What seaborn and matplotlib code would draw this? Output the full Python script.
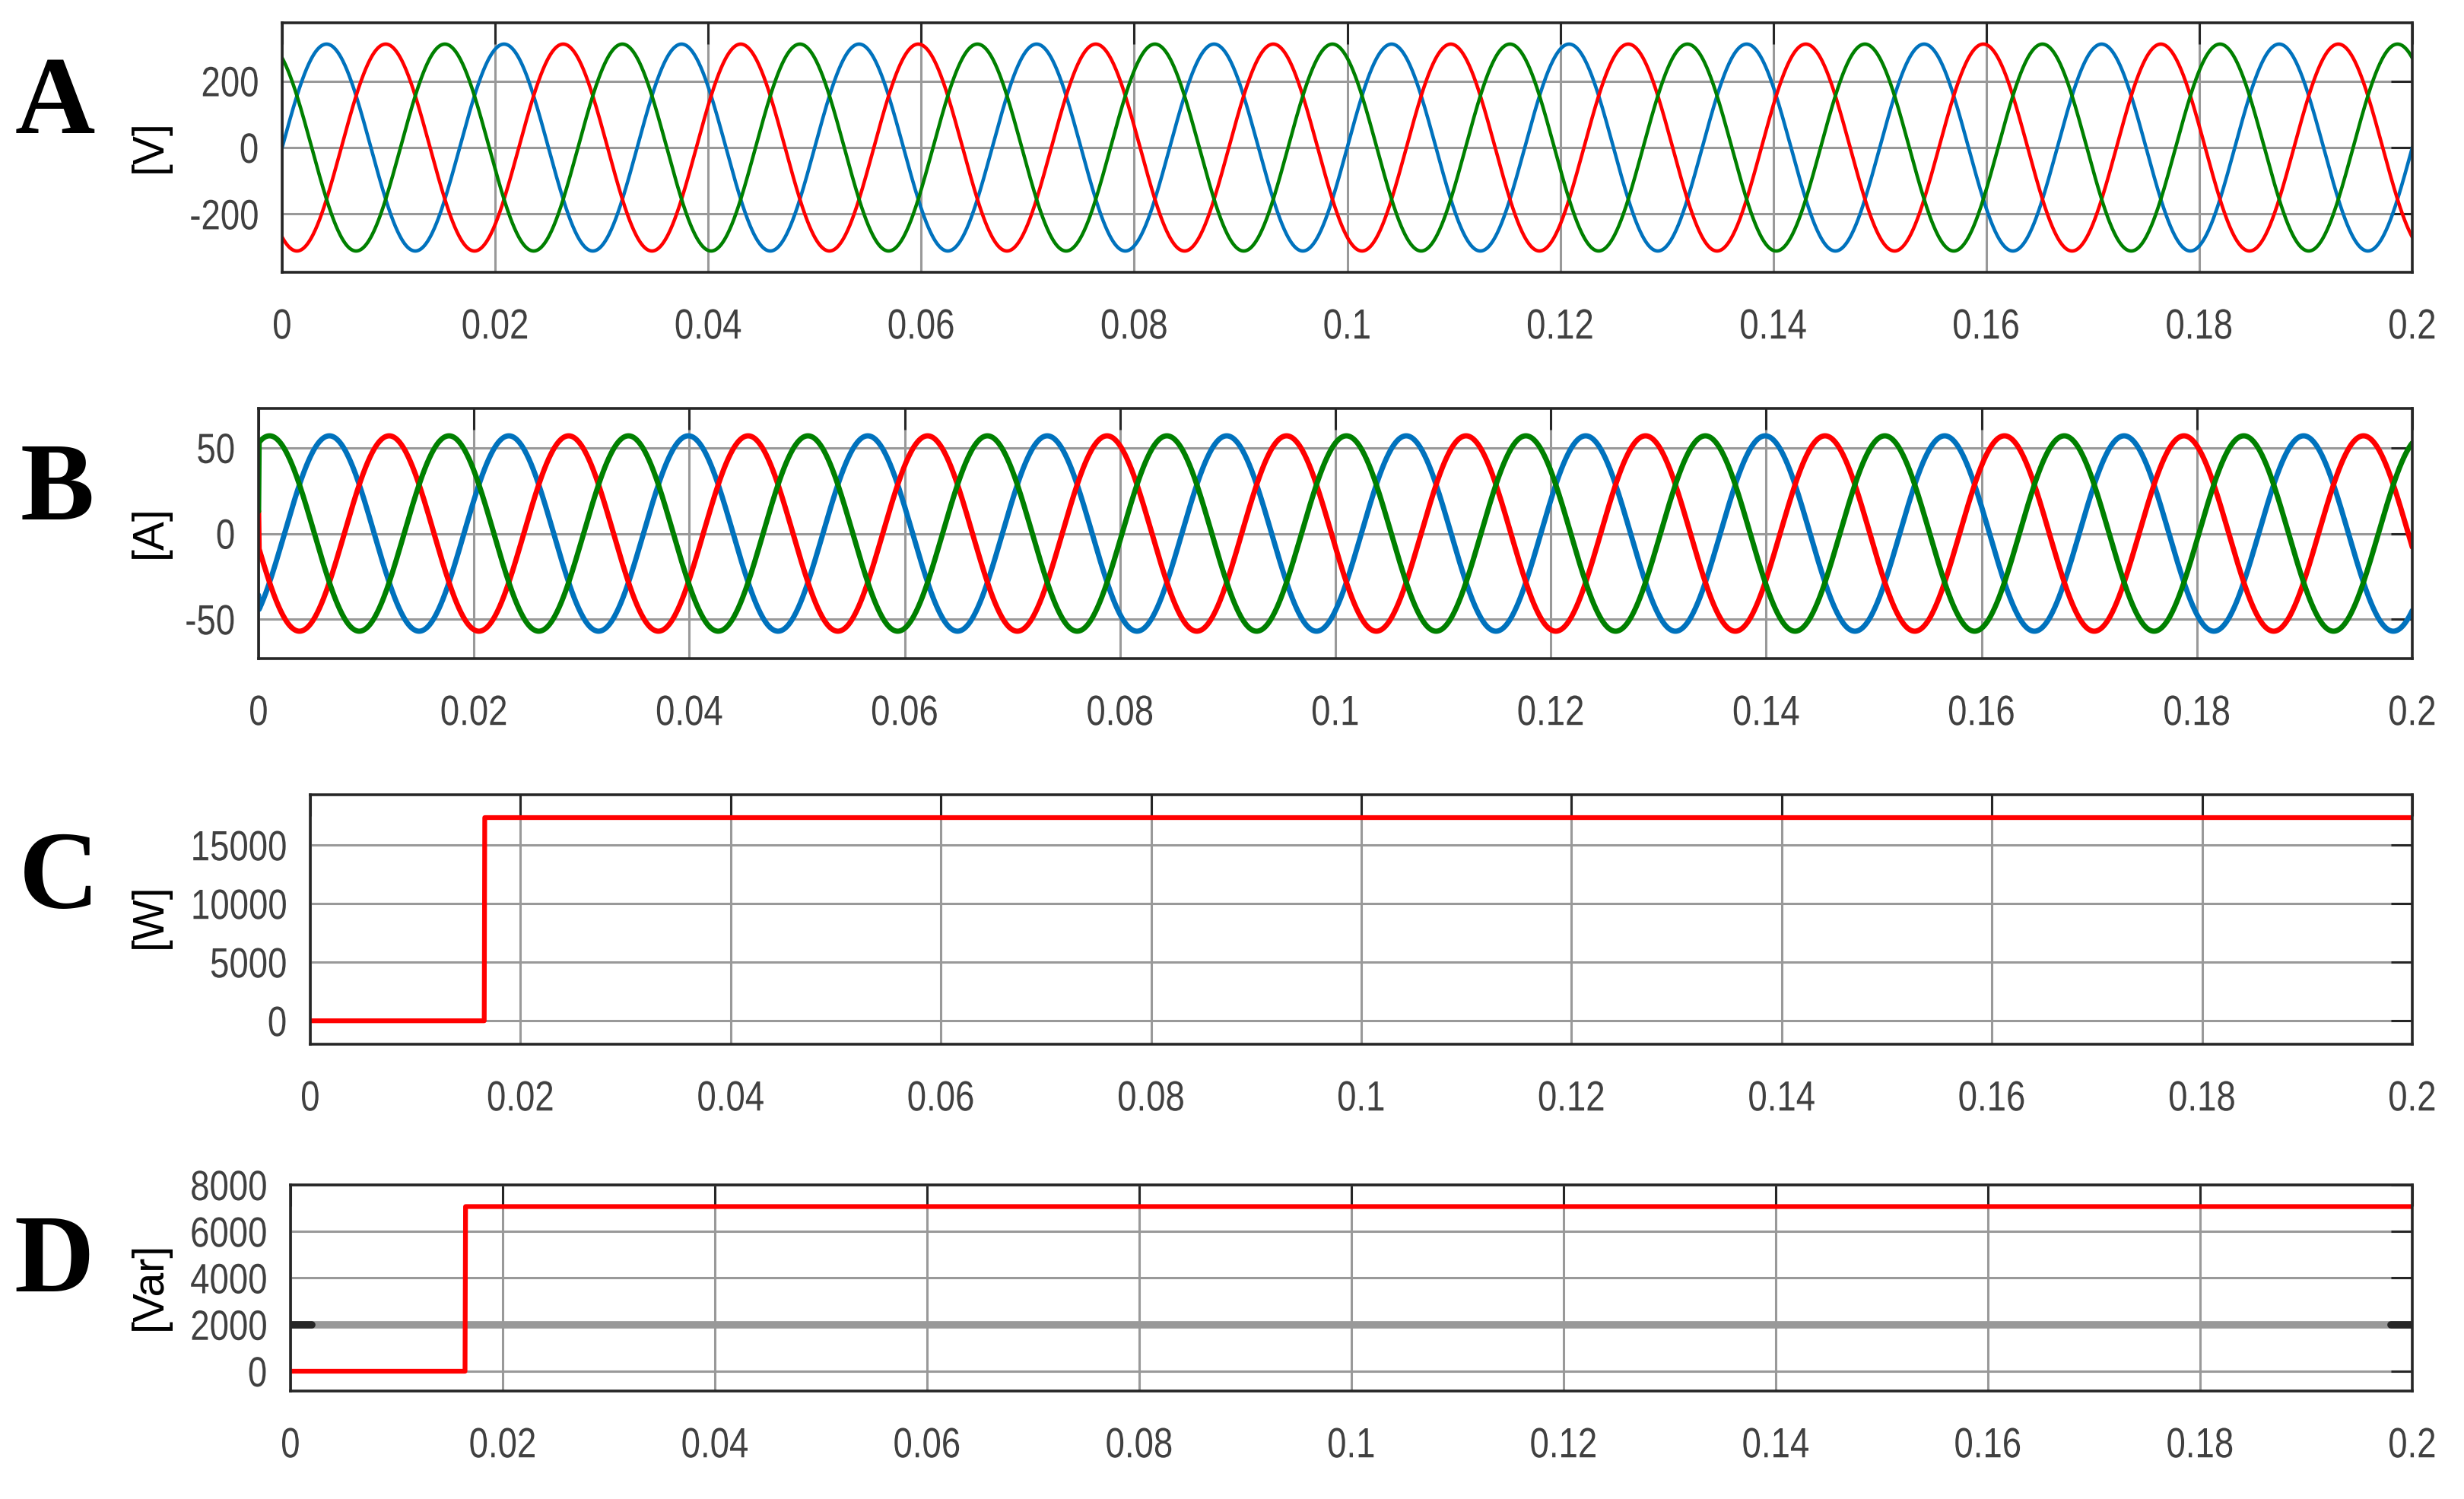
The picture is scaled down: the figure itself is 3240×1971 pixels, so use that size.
import numpy as np
import pandas as pd
import matplotlib
matplotlib.use('Agg')
import matplotlib.pyplot as plt
from matplotlib import font_manager, patheffects
from matplotlib.transforms import Affine2D
import seaborn as sns

# ---- data ----
t_end = 0.2
n_samples = 4001
freq = 60.0                      # Hz
phase_names = ['a', 'b', 'c']
phase_colors = ['#0072BD', '#FF0000', '#008000']
phase_shift_deg = [0, -120, 120]  # blue, red, green

v_amp = 311.0                    # [V]
i_amp = 57.0                     # [A]
i_lag_deg = 52.0                 # current lags voltage
i_start = [-36.0, 13.0, 13.0]    # first sample of the currents

p_step_time = 0.0166
p_step_value = 17350.0           # [W]
q_step_time = 0.0165
q_step_value = 7070.0            # [Var]
q_ref_value = 2000.0             # grey line in panel D

xticks = [0, 0.02, 0.04, 0.06, 0.08, 0.1, 0.12, 0.14, 0.16, 0.18, 0.2]
xtick_labels = ['0', '0.02', '0.04', '0.06', '0.08', '0.1', '0.12', '0.14', '0.16', '0.18', '0.2']
yticks_a = [-200, 0, 200]
yticks_b = [-50, 0, 50]
yticks_c = [0, 5000, 10000, 15000]
yticks_d = [0, 2000, 4000, 6000, 8000]
ylim_a = (-375, 375)
ylim_b = (-73, 73)
ylim_c = (-2000, 19300)
ylim_d = (-850, 8000)
panel_letters = ['A', 'B', 'C', 'D']
units = ['[V]', '[A]', '[W]', '[Var]']


class Squeeze(patheffects.AbstractPathEffect):
    """Draw text narrower (the reference uses a condensed face)."""

    def __init__(self, sx=0.82, anchor='center'):
        super().__init__()
        self.sx = sx
        self.anchor = anchor

    def draw_path(self, renderer, gc, tpath, affine, rgbFace=None):
        xs = tpath.vertices[:, 0]
        if len(xs) == 0:
            return
        x0 = xs.max() if self.anchor == 'right' else 0.5 * (xs.min() + xs.max())
        tr = Affine2D().translate(-x0, 0).scale(self.sx, 1).translate(x0, 0) + affine
        renderer.draw_path(gc, tpath, tr, rgbFace)


# ---- build tables ----
t = np.linspace(0, t_end, n_samples)
rows_v, rows_i = [], []
for name, sh in zip(phase_names, phase_shift_deg):
    v = v_amp * np.sin(2 * np.pi * freq * t + np.deg2rad(sh))
    rows_v.append(pd.DataFrame({'t': t, 'val': v, 'phase': name}))
for name, sh, i0 in zip(phase_names, phase_shift_deg, i_start):
    cur = i_amp * np.sin(2 * np.pi * freq * t + np.deg2rad(sh - i_lag_deg))
    cur[0] = i0
    rows_i.append(pd.DataFrame({'t': t, 'val': cur, 'phase': name}))
df_v = pd.concat(rows_v)
df_i = pd.concat(rows_i)
df_p = pd.DataFrame({'t': t, 'val': np.where(t < p_step_time, 0.0, p_step_value)})
df_q = pd.DataFrame({'t': t, 'val': np.where(t < q_step_time, 0.0, q_step_value)})

# ---- style ----
sns.set_theme(style='white')
fams = {f.name for f in font_manager.fontManager.ttflist}
narrow = 'Liberation Sans Narrow' in fams
tick_font = 'Liberation Sans Narrow' if narrow else 'Liberation Sans'
squeeze = 1.0 if narrow else 0.82
plt.rcParams['font.family'] = [tick_font, 'DejaVu Sans']

W, H = 3241, 1971
fig = plt.figure(figsize=(W / 100, H / 100), dpi=100)

# axes boxes in pixels: left, top, right, bottom
boxes = [(371, 30, 3172, 358), (340, 537, 3172, 866),
         (408, 1045, 3172, 1373), (382, 1558, 3172, 1829)]
axes = []
for l, tp, r, b in boxes:
    axes.append(fig.add_axes([l / W, 1 - b / H, (r - l) / W, (b - tp) / H]))

pal = dict(zip(phase_names, phase_colors))
sns.lineplot(data=df_v, x='t', y='val', hue='phase', palette=pal, estimator=None,
             lw=3.3, legend=False, ax=axes[0])
sns.lineplot(data=df_i, x='t', y='val', hue='phase', palette=pal, estimator=None,
             lw=5, legend=False, ax=axes[1])
sns.lineplot(data=df_p, x='t', y='val', color='#FF0000', estimator=None,
             lw=4.5, ax=axes[2])
axes[3].axhline(q_ref_value, color='#999999', lw=7, zorder=1.5)
axes[3].axhline(q_ref_value, xmin=0, xmax=0.01, color='#262626', lw=7, zorder=3)
axes[3].axhline(q_ref_value, xmin=0.99, xmax=1, color='#262626', lw=7, zorder=3)
sns.lineplot(data=df_q, x='t', y='val', color='#FF0000', estimator=None,
             lw=4.5, ax=axes[3])

yticks = [yticks_a, yticks_b, yticks_c, yticks_d]
ylims = [ylim_a, ylim_b, ylim_c, ylim_d]
for ax, yt, yl in zip(axes, yticks, ylims):
    ax.set_xlim(0, t_end)
    ax.set_ylim(*yl)
    ax.set_xticks(xticks)
    ax.set_xticklabels(xtick_labels)
    ax.set_yticks(yt)
    ax.set_yticklabels([str(v) for v in yt])
    ax.set_xlabel('')
    ax.set_ylabel('')
    ax.set_axisbelow(True)
    ax.grid(True, color='#999999', lw=2.2)
    for s in ax.spines.values():
        s.set_visible(True)
        s.set_color('#262626')
        s.set_linewidth(2.6)
    ax.tick_params(axis='both', which='both', direction='in', length=20, width=2.2,
                   color='#262626', top=True, right=True, labelsize=40,
                   labelcolor='#404040')
    ax.tick_params(axis='x', pad=34)
    ax.tick_params(axis='y', pad=22)
    for lab in ax.get_xticklabels():
        lab.set_path_effects([Squeeze(squeeze, 'center')])
    for lab in ax.get_yticklabels():
        lab.set_path_effects([Squeeze(squeeze, 'right')])

# panel letters (baseline position) and unit labels
letter_pos = [(72, 175), (75, 683), (78, 1194), (71, 1698)]
unit_pos = [(197, 192), (197, 699), (197, 1204), (197, 1691)]
for (x, y), s in zip(letter_pos, panel_letters):
    fig.text(x / W, 1 - y / H, s, ha='center', va='baseline', fontsize=105,
             fontweight='bold', family=['Liberation Serif', 'DejaVu Serif'], color='black')
for (x, y), s in zip(unit_pos, units):
    fig.text(x / W, 1 - y / H, s, ha='center', va='center', fontsize=41, rotation=90,
             family=['Liberation Sans', 'DejaVu Sans'], color='black')

fig.savefig('out.png', dpi=100, facecolor='white')
print('saved')
